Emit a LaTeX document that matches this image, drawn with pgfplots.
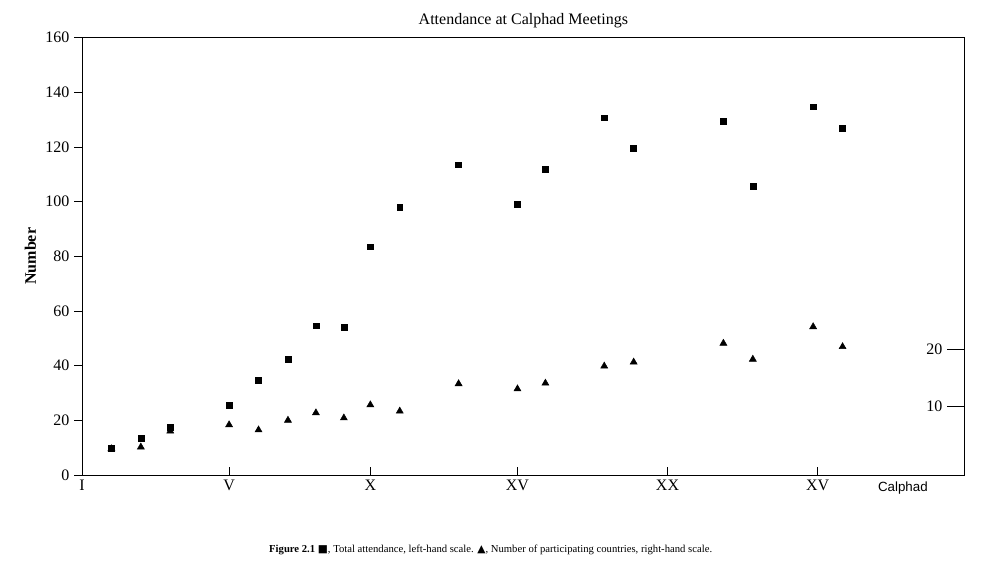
\documentclass[border=0pt]{standalone}
\usepackage{pgfplots}
\pgfplotsset{compat=1.18}
\usepackage{fontspec}
\setmainfont{Liberation Serif}
\setsansfont{Liberation Sans}
\newfontfamily\sym{DejaVu Sans}
\begin{document}
\begin{tikzpicture}
\path[use as bounding box] (0,0) rectangle (736.5pt,429pt);
\begin{axis}[name=ax, at={(61.5pt,72.75pt)}, anchor=south west,
 scale only axis, width=662pt, height=328pt,
 xmin=0, xmax=30, ymin=0, ymax=160,
 xtick={0,5,9.8,14.8,19.9,25}, xticklabels={I,V,X,XV,XX,XV},
 ytick={0,20,...,160},
 tick style={black, thin},
 ytick pos=left, xtick pos=bottom,
 xtick align=inside, ytick align=outside,
 major tick length=6pt,
 tick label style={font=\large},
 /pgf/number format/assume math mode=true,
 ylabel={\textbf{Number}}, ylabel style={font=\large},
 title={Attendance at Calphad Meetings}, title style={font=\large, yshift=-2pt},
 axis line style={black, thin},
]
\addplot[only marks, mark=square*, mark size=2.2pt] coordinates {
(1,9.9)(2,13.5)(3,17.6)(5,25.6)(6,34.8)(7,42.5)(7.95,54.6)(8.9,54.2)(9.8,83.5)(10.8,97.8)
(12.8,113.5)(14.8,99.2)(15.75,112)(17.75,130.7)(18.75,119.4)(21.8,129.3)(22.8,105.5)(24.85,134.7)(25.85,127)};
\end{axis}
\begin{axis}[at={(61.5pt,72.75pt)}, anchor=south west,
 scale only axis, width=662pt, height=328pt,
 xmin=0, xmax=30, ymin=-2.1, ymax=74.6,
 axis lines=none, ytick={10,20},
]
\addplot[only marks, mark=triangle*, mark size=3pt] coordinates {
(1,2.5)(2,2.8)(3,5.6)(5,6.7)(6,5.8)(7,7.5)(7.95,8.8)(8.9,7.9)(9.8,10.2)(10.8,9.1)
(12.8,13.9)(14.8,13)(15.75,14)(17.75,17)(18.75,17.7)(21.8,21)(22.8,18.2)(24.85,23.9)(25.85,20.4)};
\draw[thin] (axis cs:29.4,10) -- (axis cs:30,10) node[pos=0, anchor=east, font=\large]{10};
\draw[thin] (axis cs:29.4,20) -- (axis cs:30,20) node[pos=0, anchor=east, font=\large]{20};
\end{axis}
\node[anchor=west, font=\sffamily] at (655pt,63pt) {Calphad};
\node[font=\footnotesize] at (368pt,16.5pt) {\textbf{Figure 2.1} {\sym■}, Total attendance, left-hand scale. {\sym▲}, Number of participating countries, right-hand scale.};
\end{tikzpicture}
\end{document}
